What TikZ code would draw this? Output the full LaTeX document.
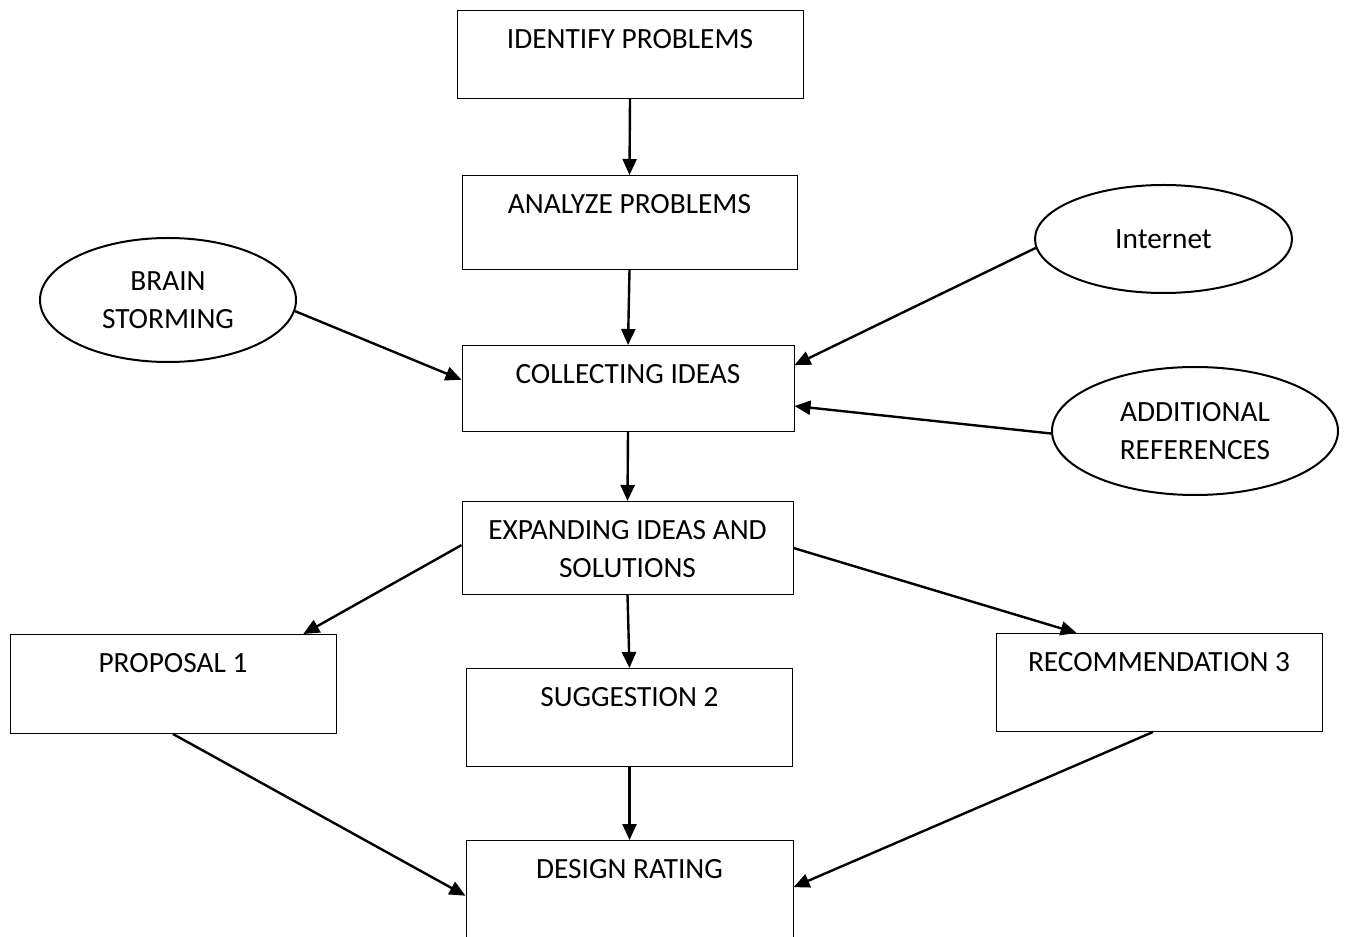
\documentclass[tikz,border=0pt]{standalone}
\usepackage{fontspec}
\setmainfont{Carlito}
\usetikzlibrary{shapes.geometric,arrows.meta}

\tikzset{every picture/.style={line width=0.75pt}}
\tikzset{
  stagebox/.style={draw, rectangle, anchor=north, inner sep=0pt, align=center, text height=28.5pt, minimum width=244.5pt},
  sourceoval/.style={draw, ellipse, line width=1.5pt, inner sep=0pt, align=center},
  flowarrow/.style={line width=1.8pt, -{Triangle[length=12pt,width=10.5pt]}}
}

\begin{document}
\begin{tikzpicture}[x=0.75pt,y=0.75pt,yscale=-1,xscale=1,font=\fontsize{22}{28.5}\selectfont]
%set diagram left start at 0, and has height of 937
\useasboundingbox (0,0) rectangle (1349,937);
\clip (0,0) rectangle (1349,937);

%Shape: Rectangle
\node [stagebox, minimum width=259.5pt, text depth=37.5pt] (idp) at (630,10) {IDENTIFY PROBLEMS};
%Shape: Rectangle
\node [stagebox, minimum width=251.25pt, text depth=42pt] (anp) at (629.5,175) {ANALYZE PROBLEMS};
%Shape: Rectangle
\node [stagebox, minimum width=249pt, text depth=36pt] (col) at (628,345) {COLLECTING IDEAS};
%Shape: Rectangle
\node [stagebox, minimum width=248.25pt, text height=57pt, text depth=12.75pt] (exp) at (627.5,501) {EXPANDING IDEAS AND\\SOLUTIONS};
%Shape: Rectangle
\node [stagebox, text depth=45.75pt] (pro) at (173,634) {PROPOSAL 1};
%Shape: Rectangle
\node [stagebox, text depth=45pt] (sug) at (629.5,668) {SUGGESTION 2};
%Shape: Rectangle
\node [stagebox, text depth=45pt] (rec) at (1159,633) {RECOMMENDATION 3};
%Shape: Rectangle
\node [stagebox, minimum width=245.25pt, text depth=45.75pt] (des) at (629.5,840) {DESIGN RATING};

%Shape: Ellipse
\node [sourceoval, minimum width=192pt, minimum height=93pt] (brain) at (168,300) {BRAIN\\STORMING};
%Shape: Ellipse
\node [sourceoval, minimum width=192.75pt, minimum height=81pt] (inet) at (1163.5,239) {Internet};
%Shape: Ellipse
\node [sourceoval, minimum width=214.5pt, minimum height=96pt] (addr) at (1195,431) {ADDITIONAL\\REFERENCES};

%Straight Lines
\draw [flowarrow] (idp.south) -- (anp.north);
\draw [flowarrow] (anp.south) -- (col.north);
\draw [flowarrow] (col.south) -- (exp.north);
\draw [flowarrow] (brain.-5) -- (col.177);
\draw [flowarrow] (inet.184) -- (col.8);
\draw [flowarrow] (addr.181) -- (col.-6);
\draw [flowarrow] (exp.179) -- (pro.21);
\draw [flowarrow] (exp.south) -- (sug.north);
\draw [flowarrow] (exp.east) -- (rec.149);
\draw [flowarrow] (pro.south) -- (des.182);
\draw [flowarrow] (sug.south) -- (des.north);
\draw [flowarrow] (rec.263) -- (des.1);

\end{tikzpicture}
\end{document}
